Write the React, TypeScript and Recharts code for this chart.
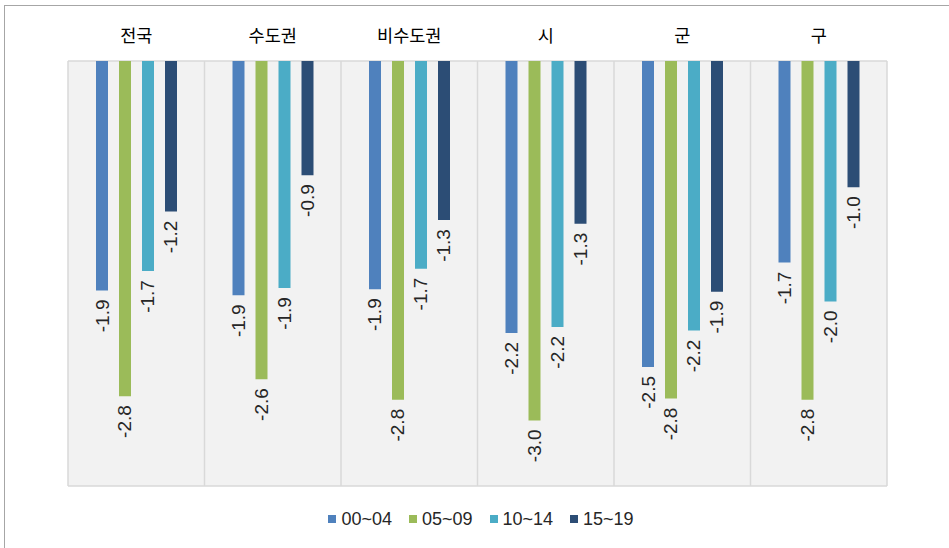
import { BarChart, Bar, XAxis, YAxis, CartesianGrid, Legend, LabelList } from "recharts";

const categories = ["전국", "수도권", "비수도권", "시", "군", "구"];
const series = ["00~04", "05~09", "10~14", "15~19"];
// values (labels show one decimal)
const v0004 = [-1.89, -1.93, -1.88, -2.24, -2.52, -1.66];
const v0509 = [-2.76, -2.62, -2.79, -2.96, -2.78, -2.79];
const v1014 = [-1.73, -1.87, -1.71, -2.19, -2.22, -1.98];
const v1519 = [-1.24, -0.94, -1.31, -1.34, -1.9, -1.04];
const colors = ["#4f81bd", "#9bbb59", "#4bacc6", "#2c4d75"];

const data = categories.map((name, i) => ({
  name,
  [series[0]]: v0004[i],
  [series[1]]: v0509[i],
  [series[2]]: v1014[i],
  [series[3]]: v1519[i],
}));

const NUM_FONT = "'Liberation Sans', Arial, sans-serif";
const KR_FONT = "'Noto Sans CJK KR', 'Noto Sans', sans-serif";

function ValueLabel(props: any) {
  const { x, y, width, height, value } = props;
  const cx = x + width / 2;
  const end = Math.max(y, y + height) + 9;
  return (
    <text
      x={cx}
      y={end}
      transform={`rotate(-90, ${cx}, ${end})`}
      textAnchor="end"
      dominantBaseline="central"
      fill="#262626"
      fontSize={19}
      fontFamily={NUM_FONT}
    >
      {Number(value).toFixed(1)}
    </text>
  );
}

function LegendBox({ payload }: any) {
  return (
    <div style={{ display: "flex", justifyContent: "center", paddingLeft: 13, height: 22, alignItems: "center" }}>
      {(payload || []).map((p: any, i: number) => (
        <div key={p.value} style={{ display: "flex", alignItems: "center", marginLeft: i ? 17 : 0 }}>
          <span style={{ width: 8, height: 8, background: p.color, display: "inline-block", marginRight: 5 }} />
          <span style={{ fontFamily: NUM_FONT, fontSize: 18, color: "#262626" }}>{p.value}</span>
        </div>
      ))}
    </div>
  );
}

export default function App() {
  return (
    <div style={{ position: "fixed", inset: 0, overflow: "hidden", background: "#fff" }}>
      <div
        style={{
          position: "absolute",
          left: 4,
          top: 5,
          width: 1000,
          height: 1000,
          border: "1.5px solid #a6a6a6",
        }}
      />
      <div style={{ position: "absolute", left: 0, top: 0 }}>
        <BarChart
          width={949}
          height={548}
          data={data}
          margin={{ top: 31, right: 62, left: 68, bottom: 40 }}
          barSize={12}
          barGap={11}
        >
          <CartesianGrid
            fill="#f2f2f2"
            stroke="#d9d9d9"
            strokeWidth={1.5}
            verticalCoordinatesGenerator={({ offset }: any) =>
              categories.map((_, i) => offset.left + (i * offset.width) / categories.length).concat(offset.left + offset.width)
            }
            horizontalCoordinatesGenerator={({ offset }: any) => [offset.top, offset.top + offset.height]}
          />
          <XAxis
            dataKey="name"
            orientation="top"
            height={30}
            axisLine={false}
            tickLine={false}
            tickSize={0}
            tickMargin={19}
            tick={{ fill: "#000", fontSize: 17.5, fontFamily: KR_FONT }}
          />
          <YAxis hide domain={[-3.5, 0]} />
          <Legend
            verticalAlign="bottom"
            content={<LegendBox />}
            wrapperStyle={{ top: 508, bottom: "auto", left: 0, width: 949 }}
          />
          {series.map((s, i) => (
            <Bar key={s} dataKey={s} fill={colors[i]} isAnimationActive={false}>
              <LabelList dataKey={s} content={<ValueLabel />} />
            </Bar>
          ))}
        </BarChart>
      </div>
    </div>
  );
}
